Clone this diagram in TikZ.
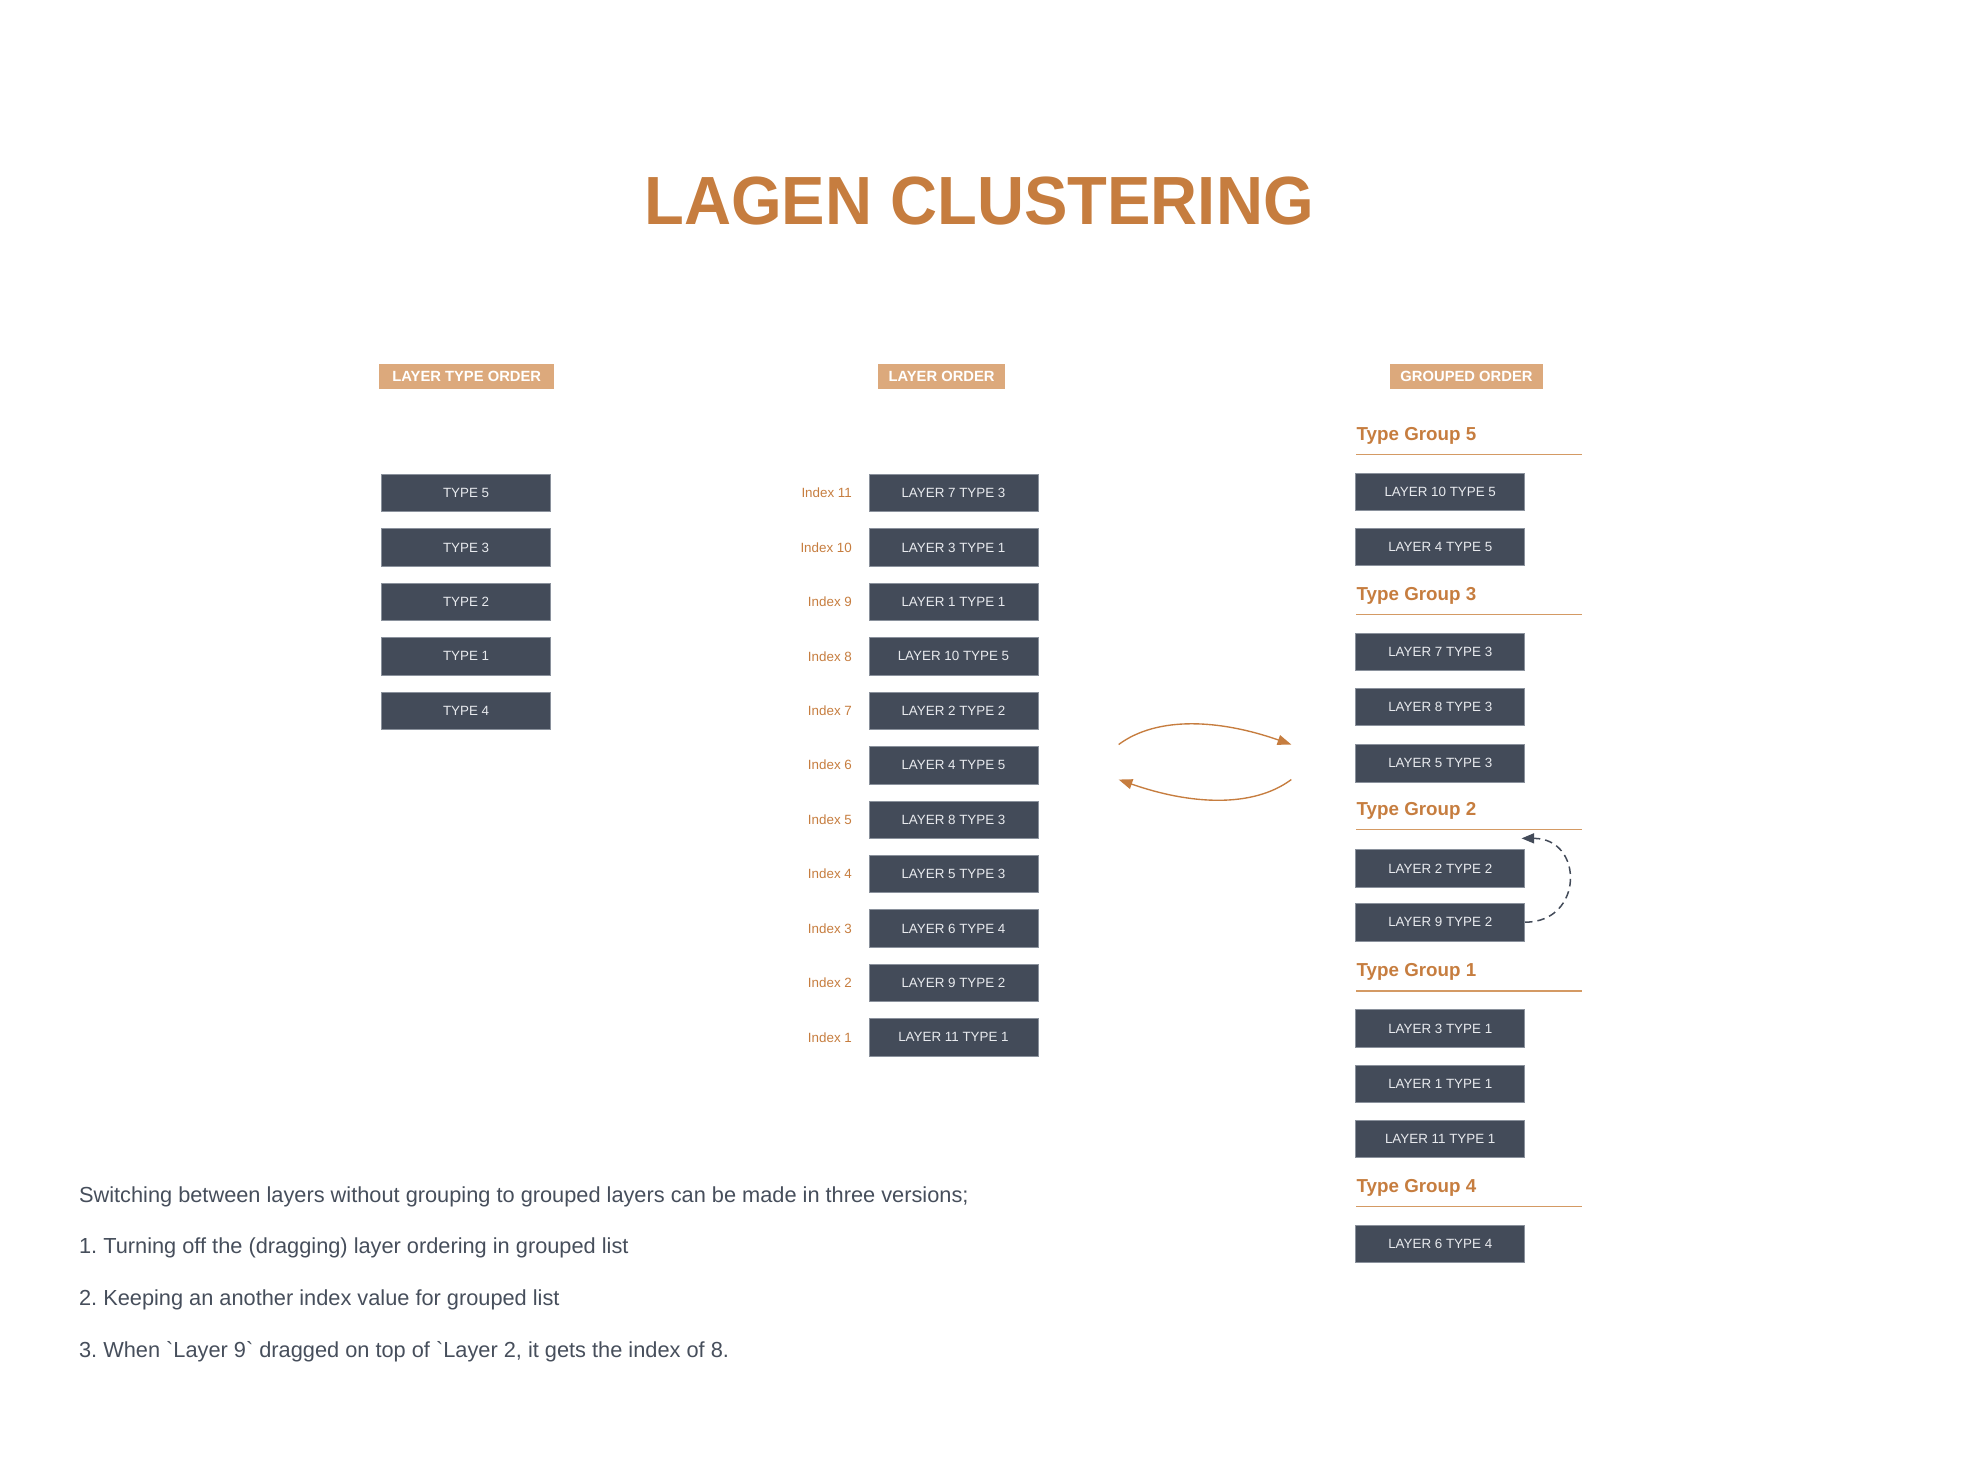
\documentclass[tikz,border=0pt]{standalone}
\usepackage{fontspec}
\setmainfont{Liberation Sans}[Ligatures=TeXOff]
\usetikzlibrary{arrows.meta}
\definecolor{orng}{HTML}{C67D3F}
\definecolor{hdr}{HTML}{DCA97C}
\definecolor{boxc}{HTML}{434B59}
\definecolor{boxe}{HTML}{8A919C}
\definecolor{boxt}{HTML}{E8EAEE}
\definecolor{bodyc}{HTML}{464E5B}
\definecolor{linec}{HTML}{D49A64}
\frenchspacing
\begin{document}
\begin{tikzpicture}[x=1pt,y=-1pt,
 lbox/.style={rectangle, fill=boxc, draw=boxe, line width=0.5pt, minimum width=135pt, minimum height=30pt, inner sep=0pt, text=boxt, font=\fontsize{10.7}{12}\selectfont},
 hbox/.style={rectangle, fill=hdr, minimum height=20pt, inner sep=0pt, text=white, font=\bfseries\fontsize{11.8}{13}\selectfont},
 idx/.style={anchor=east, text=orng, font=\fontsize{10.7}{12}\selectfont, inner sep=0pt},
 grp/.style={anchor=west, text=orng, font=\bfseries\fontsize{15}{17}\selectfont, inner sep=0pt},
 gline/.style={draw=linec, line width=1.1pt},
 body/.style={anchor=base west, text=bodyc, font=\fontsize{17.4}{20}\selectfont\frenchspacing, inner sep=0pt},
 flow/.style={draw=orng, line width=1.1pt, -{Triangle[length=11pt,width=8pt]}},
 dsh/.style={draw=boxc, line width=1.2pt, dash pattern=on 6pt off 4pt, -{Triangle[length=10pt,width=8pt]}},
]
\useasboundingbox (0,0) rectangle (1568,1174.8);

% title
\node[text=orng, font=\bfseries\fontsize{54.5}{60}\selectfont, inner sep=0pt] (title) at (782.5,161) {\scalebox{0.955}[1]{LAGEN CLUSTERING}};

% headers
\node[hbox, minimum width=140pt] (h1) at (373,301) {LAYER TYPE ORDER};
\node[hbox, minimum width=101pt] (h2) at (752.5,301) {LAYER ORDER};
\node[hbox, minimum width=122pt] (h3) at (1172,301) {GROUPED ORDER};

% left column
\node[lbox] (t5) at (372.5,394) {TYPE 5};
\node[lbox] (t3) at (372.5,437.5) {TYPE 3};
\node[lbox] (t2) at (372.5,481) {TYPE 2};
\node[lbox] (t1) at (372.5,524.5) {TYPE 1};
\node[lbox] (t4) at (372.5,568) {TYPE 4};

% middle column
\node[lbox] (m11) at (762,394) {LAYER 7 TYPE 3};
\node[lbox] (m10) at (762,437.5) {LAYER 3 TYPE 1};
\node[lbox] (m9) at (762,481) {LAYER 1 TYPE 1};
\node[lbox] (m8) at (762,524.5) {LAYER 10 TYPE 5};
\node[lbox] (m7) at (762,568) {LAYER 2 TYPE 2};
\node[lbox] (m6) at (762,611.5) {LAYER 4 TYPE 5};
\node[lbox] (m5) at (762,655) {LAYER 8 TYPE 3};
\node[lbox] (m4) at (762,698.5) {LAYER 5 TYPE 3};
\node[lbox] (m3) at (762,742) {LAYER 6 TYPE 4};
\node[lbox] (m2) at (762,785.5) {LAYER 9 TYPE 2};
\node[lbox] (m1) at (762,829) {LAYER 11 TYPE 1};

\node[idx] (i11) at (681,394) {Index 11};
\node[idx] (i10) at (681,437.5) {Index 10};
\node[idx] (i9) at (681,481) {Index 9};
\node[idx] (i8) at (681,524.5) {Index 8};
\node[idx] (i7) at (681,568) {Index 7};
\node[idx] (i6) at (681,611.5) {Index 6};
\node[idx] (i5) at (681,655) {Index 5};
\node[idx] (i4) at (681,698.5) {Index 4};
\node[idx] (i3) at (681,742) {Index 3};
\node[idx] (i2) at (681,785.5) {Index 2};
\node[idx] (i1) at (681,829) {Index 1};

% right column
\node[grp] (gh5) at (1084,348) {Type Group 5};
\draw[gline] (1084,363) -- (1264,363);
\node[lbox] (g10) at (1151,393) {LAYER 10 TYPE 5};
\node[lbox] (g4) at (1151,437) {LAYER 4 TYPE 5};

\node[grp] (gh3) at (1084,476) {Type Group 3};
\draw[gline] (1084,491) -- (1264,491);
\node[lbox] (g7) at (1151,521) {LAYER 7 TYPE 3};
\node[lbox] (g8) at (1151,565) {LAYER 8 TYPE 3};
\node[lbox] (g5) at (1151,610) {LAYER 5 TYPE 3};

\node[grp] (gh2) at (1084,648) {Type Group 2};
\draw[gline] (1084,663) -- (1264,663);
\node[lbox] (g2) at (1151,694) {LAYER 2 TYPE 2};
\node[lbox] (g9) at (1151,737) {LAYER 9 TYPE 2};

\node[grp] (gh1) at (1084,777) {Type Group 1};
\draw[gline] (1084,792) -- (1264,792);
\node[lbox] (g3) at (1151,822) {LAYER 3 TYPE 1};
\node[lbox] (g1) at (1151,866) {LAYER 1 TYPE 1};
\node[lbox] (g11) at (1151,910) {LAYER 11 TYPE 1};

\node[grp] (gh4) at (1084,949) {Type Group 4};
\draw[gline] (1084,964) -- (1264,964);
\node[lbox] (g6) at (1151,994) {LAYER 6 TYPE 4};

% arrows between lists
\coordinate (a1) at (894,595);
\coordinate (a2) at (1032,595);
\coordinate (b1) at (1032,623);
\coordinate (b2) at (894,623);
\draw[flow] (a1) .. controls (925,572) and (975,575) .. (a2);
\draw[flow] (b1) .. controls (1001,646) and (951,643) .. (b2);

% dashed move arrow
\coordinate (dtip) at (1216,670);
\draw[dsh] (g9.east) .. controls (1266,737) and (1266,670) .. (dtip);

% body text
\node[body] (p0) at (63,961) {Switching between layers without grouping to grouped layers can be made in three versions;};
\node[body] (p1) at (63,1002) {1. Turning off the (dragging) layer ordering in grouped list};
\node[body] (p2) at (63,1043) {2. Keeping an another index value for grouped list};
\node[body] (p3) at (63,1085) {3. When `Layer 9` dragged on top of `Layer 2, it gets the index of 8.};
\end{tikzpicture}
\end{document}
